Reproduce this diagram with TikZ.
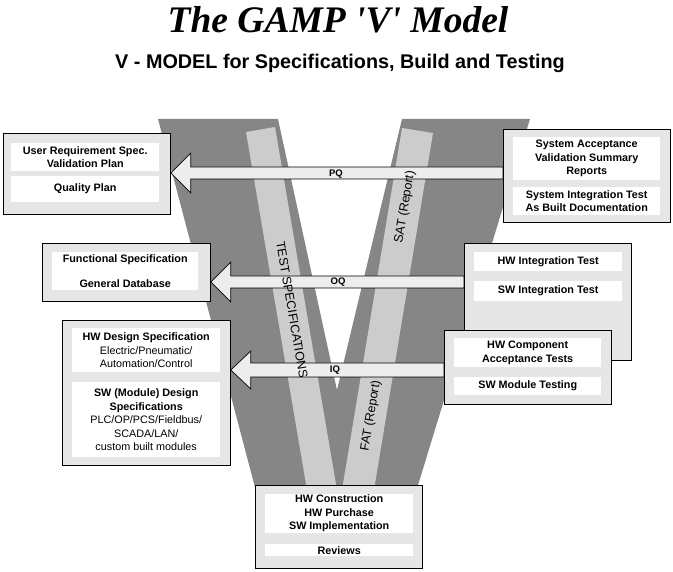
\documentclass[tikz,border=0pt]{standalone}
\usepackage{fontspec}
\setmainfont{Liberation Sans}
\newfontfamily\titleserif{Liberation Serif}
\newcommand\bxfont{\bfseries\fontsize{10.8}{13.5}\selectfont}
\definecolor{vgray}{HTML}{868686}
\definecolor{bandgray}{HTML}{CCCCCC}
\definecolor{boxgray}{HTML}{E6E6E6}
\definecolor{arrowgray}{HTML}{EDEDED}
\begin{document}
\begin{tikzpicture}[x=1pt,y=-1pt,
  outerbox/.style={draw=black,fill=boxgray,line width=0.8pt,anchor=north west,inner sep=0pt},
  innerbox/.style={fill=white,anchor=north west,inner sep=0pt,align=center,font=\bxfont},
  bigarrow/.style={draw=black,fill=arrowgray,line width=0.7pt,line join=miter},
  arrowlabel/.style={font=\bfseries\fontsize{9.5}{11}\selectfont,inner sep=0pt},
  bandtext/.style={font=\fontsize{12.5}{14}\selectfont,inner sep=0pt}
]
\useasboundingbox (0,0) rectangle (673,572);

% titles
\node[font=\titleserif\bfseries\itshape\fontsize{37.5}{42}\selectfont,inner sep=0pt] (title) at (338,20) {The GAMP 'V' Model};
\node[font=\bfseries\fontsize{19.8}{23}\selectfont,inner sep=0pt] (subtitle) at (340,63) {V - MODEL for Specifications, Build and Testing};

% the V
\fill[vgray] (158,119) -- (278,119) -- (337,390) -- (402,119) -- (530,119)
  -- (415,495) -- (257,495) -- cycle;

% bands
\fill[bandgray] (246,132) -- (275,127) -- (337,490) -- (307,490) -- cycle;
\fill[bandgray] (402,128) -- (433,133) -- (374,490) -- (342,490) -- cycle;

% boxes (positions)
\node[outerbox,minimum width=167pt,minimum height=81pt] (urs) at (3,133) {};
\node[outerbox,minimum width=167pt,minimum height=93pt] (sat) at (503,129) {};
\node[outerbox,minimum width=168pt,minimum height=58pt] (fs) at (42,243) {};
\node[outerbox,minimum width=167pt,minimum height=117pt] (hwit) at (464,243) {};
\node[outerbox,minimum width=167pt,minimum height=74pt] (hwcat) at (444,330) {};
\node[outerbox,minimum width=168pt,minimum height=145pt] (hwds) at (62,320) {};
\node[outerbox,minimum width=167pt,minimum height=83pt] (hwc) at (255,485) {};

% arrows
\coordinate (pqy) at (0,173);
\coordinate (pqtop) at (0,167);
\coordinate (pqbot) at (0,179);
\path (urs.east |- pqy) coordinate (pqtip) ++(20,0) coordinate (pqhead);
\draw[bigarrow] (pqtip) -- ++(20,-20) -- ++(0,14) -- (sat.west |- pqtop)
  -- (sat.west |- pqbot) -- (pqhead |- pqbot) -- ++(0,14) -- cycle;

\coordinate (oqy) at (0,282);
\coordinate (oqtop) at (0,276);
\coordinate (oqbot) at (0,288);
\path (fs.east |- oqy) coordinate (oqtip) ++(20,0) coordinate (oqhead);
\draw[bigarrow] (oqtip) -- ++(20,-20) -- ++(0,14) -- (hwit.west |- oqtop)
  -- (hwit.west |- oqbot) -- (oqhead |- oqbot) -- ++(0,14) -- cycle;

\coordinate (iqy) at (0,370);
\coordinate (iqtop) at (0,363);
\coordinate (iqbot) at (0,377);
\path (hwds.east |- iqy) coordinate (iqtip) ++(20,0) coordinate (iqhead);
\draw[bigarrow] (iqtip) -- ++(20,-19) -- ++(0,12) -- (hwcat.west |- iqtop)
  -- (hwcat.west |- iqbot) -- (iqhead |- iqbot) -- ++(0,12) -- cycle;

\node[arrowlabel] (pq) at (336,174) {PQ};
\node[arrowlabel] (oq) at (338,282) {OQ};
\node[arrowlabel] (iq) at (335,370) {IQ};

% band texts
\node[bandtext,rotate=-80.3] (testspec) at (292,310) {TEST SPECIFICATIONS};
\node[bandtext,rotate=80.5] (satr) at (405,207) {SAT (Report)};
\node[bandtext,rotate=80.5] (fatr) at (371,416) {FAT (Report)};

% boxes drawn again on top where needed
\node[outerbox,minimum width=167pt,minimum height=93pt] at (503,129) {};
\node[outerbox,minimum width=167pt,minimum height=117pt] at (464,243) {};
\node[outerbox,minimum width=167pt,minimum height=74pt] at (444,330) {};
\node[outerbox,minimum width=167pt,minimum height=83pt] at (255,485) {};

% inner boxes
\node[innerbox,minimum width=148pt,minimum height=28pt] (urs1) at (11,143) {User Requirement Spec.\\Validation Plan};
\node[innerbox,minimum width=148pt,minimum height=26pt] (urs2) at (11,176) {Quality Plan};

\node[innerbox,minimum width=147pt,minimum height=43pt] (sat1) at (513,137) {System Acceptance\\Validation Summary\\Reports};
\node[innerbox,minimum width=147pt,minimum height=28pt] (sat2) at (513,187) {System Integration Test\\As Built Documentation};

\node[innerbox,minimum width=146pt,minimum height=38pt] (fs1) at (52,252) {Functional Specification\\[11pt]General Database};

\node[innerbox,minimum width=148pt,minimum height=19pt] (hwit1) at (474,252) {HW Integration Test};
\node[innerbox,minimum width=148pt,minimum height=20pt] (hwit2) at (474,281) {SW Integration Test};

\node[innerbox,minimum width=147pt,minimum height=29pt] (hwcat1) at (454,338) {HW Component\\Acceptance Tests};
\node[innerbox,minimum width=147pt,minimum height=18pt] (hwcat2) at (454,377) {SW Module Testing};

\node[innerbox,minimum width=148pt,minimum height=44pt] (hwds1) at (72,328) {HW Design Specification\\{\mdseries Electric/Pneumatic/}\\{\mdseries Automation/Control}};
\node[innerbox,minimum width=148pt,minimum height=75pt] (hwds2) at (72,382) {SW (Module) Design\\Specifications\\{\mdseries PLC/OP/PCS/Fieldbus/}\\{\mdseries SCADA/LAN/}\\{\mdseries custom built modules}};

\node[innerbox,minimum width=148pt,minimum height=39pt] (hwc1) at (265,494) {HW Construction\\HW Purchase\\SW Implementation};
\node[innerbox,minimum width=148pt,minimum height=12pt] (hwc2) at (265,544) {Reviews};
\end{tikzpicture}
\end{document}
